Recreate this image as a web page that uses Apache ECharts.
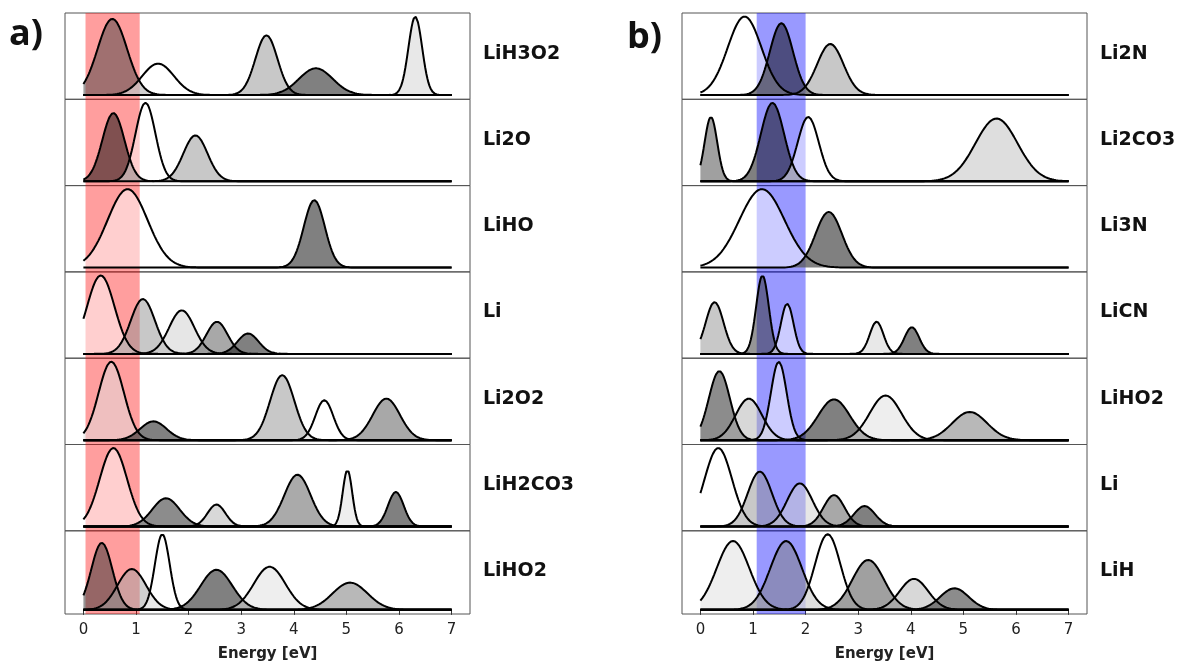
<!DOCTYPE html>
<html>
<head>
<meta charset="utf-8">
<script src="https://cdn.jsdelivr.net/npm/echarts@6/dist/echarts.min.js"></script>
<style>
  html, body { margin: 0; padding: 0; background: #fff; }
  #chart { width: 1184px; height: 663px; }
</style>
</head>
<body>
<div id="chart"></div>
<script>
// tick labels of the energy axis
const xTicks = [0, 1, 2, 3, 4, 5, 6, 7];

// panel a / b row labels (top to bottom)
const namesA = ['LiH3O2', 'Li2O', 'LiHO', 'Li', 'Li2O2', 'LiH2CO3', 'LiHO2'];
const namesB = ['Li2N', 'Li2CO3', 'Li3N', 'LiCN', 'LiHO2', 'Li', 'LiH'];

// highlighted energy windows [eV]
const bandA = [0.04, 1.07];
const bandB = [1.07, 2.0];

// peaks: [centre eV, relative height, width eV]
const a1Peaks = [[0.55, 0.97, 0.28], [1.42, 0.40, 0.30], [3.48, 0.76, 0.21], [4.42, 0.34, 0.32], [6.31, 1.0, 0.13]];
const a2Peaks = [[0.57, 0.87, 0.21], [1.18, 1.0, 0.19], [2.13, 0.585, 0.23]];
const a3Peaks = [[0.84, 1.0, 0.38], [4.39, 0.86, 0.20]];
const a4Peaks = [[0.33, 1.0, 0.26], [1.13, 0.70, 0.23], [1.87, 0.555, 0.24], [2.54, 0.41, 0.20], [3.13, 0.26, 0.20]];
const a5Peaks = [[0.53, 1.0, 0.24], [1.33, 0.24, 0.25], [3.78, 0.83, 0.23], [4.58, 0.51, 0.17], [5.76, 0.53, 0.26]];
const a6Peaks = [[0.57, 1.0, 0.26], [1.57, 0.36, 0.26], [2.53, 0.28, 0.17], [4.07, 0.66, 0.25], [5.02, 0.72, 0.09], [5.94, 0.44, 0.15]];
const a7Peaks = [[0.35, 0.886, 0.20], [0.92, 0.54, 0.27], [1.50, 1.0, 0.14], [2.53, 0.53, 0.30], [3.54, 0.57, 0.30], [5.07, 0.36, 0.33]];

const b1Peaks = [[0.84, 1.0, 0.32], [1.54, 0.915, 0.22], [2.47, 0.65, 0.25]];
const b2Peaks = [[0.20, 0.82, 0.12], [1.37, 1.0, 0.22], [2.05, 0.82, 0.20], [5.63, 0.80, 0.40]];
const b3Peaks = [[1.17, 1.0, 0.43], [2.44, 0.71, 0.25]];
const b4Peaks = [[0.27, 0.66, 0.17], [1.18, 1.0, 0.12], [1.65, 0.64, 0.12], [3.35, 0.41, 0.13], [4.02, 0.34, 0.14]];
const b5Peaks = [[0.36, 0.88, 0.20], [0.92, 0.53, 0.25], [1.49, 1.0, 0.15], [2.54, 0.52, 0.30], [3.52, 0.57, 0.30], [5.12, 0.36, 0.33]];
const b6Peaks = [[0.34, 1.0, 0.26], [1.13, 0.70, 0.23], [1.89, 0.55, 0.24], [2.54, 0.40, 0.20], [3.12, 0.26, 0.20]];
const b7Peaks = [[0.62, 0.91, 0.31], [1.63, 0.91, 0.30], [2.42, 1.0, 0.24], [3.19, 0.66, 0.30], [4.06, 0.41, 0.27], [4.83, 0.285, 0.27]];

// grey level of each fill as seen over white
const a1Shades = [160, 255, 200, 128, 232];
const a2Shades = [128, 255, 200];
const a3Shades = [255, 128];
const a4Shades = [255, 200, 230, 168, 128];
const a5Shades = [239, 128, 200, 255, 168];
const a6Shades = [255, 140, 216, 170, 238, 128];
const a7Shades = [150, 208, 255, 128, 238, 184];

const b1Shades = [255, 128, 200];
const b2Shades = [160, 128, 255, 222];
const b3Shades = [255, 128];
const b4Shades = [200, 150, 255, 232, 128];
const b5Shades = [140, 216, 255, 128, 238, 184];
const b6Shades = [255, 200, 230, 168, 128];
const b7Shades = [238, 190, 255, 160, 216, 140];

const rowsA = [[a1Peaks, a1Shades], [a2Peaks, a2Shades], [a3Peaks, a3Shades], [a4Peaks, a4Shades], [a5Peaks, a5Shades], [a6Peaks, a6Shades], [a7Peaks, a7Shades]];
const rowsB = [[b1Peaks, b1Shades], [b2Peaks, b2Shades], [b3Peaks, b3Shades], [b4Peaks, b4Shades], [b5Peaks, b5Shades], [b6Peaks, b6Shades], [b7Peaks, b7Shades]];

// layout
const TOP = 13, ROW_H = 86.3, GRID_W = 405;
const FONT = 'DejaVu Sans';

// each peak is drawn as a gaussian from 0 to 7 eV
function peakCurve(c, h, s) {
  const pts = [];
  for (let i = 0; i <= 350; i++) {
    const x = i * 0.02;
    pts.push([x, h * Math.exp(-((x - c) * (x - c)) / (2 * s * s))]);
  }
  return pts;
}

function fillColor(obs) {
  // fills are grey at 50% alpha
  const g = Math.max(0, Math.round(2 * obs - 255));
  return 'rgba(' + g + ',' + g + ',' + g + ',0.5)';
}

const chart = echarts.init(document.getElementById('chart'));

const grid = [], xAxis = [], yAxis = [], series = [], graphic = [];

function addPanel(rows, names, left, band, bandColor, letter, letterPos) {
  rows.forEach(function (row, r) {
    const k = grid.length;
    const top = TOP + r * ROW_H;
    const last = r === rows.length - 1;
    grid.push({ left: left, top: top, width: GRID_W, height: ROW_H, show: true, borderColor: '#555', borderWidth: 1 });
    xAxis.push({
      gridIndex: k, type: 'value', min: -0.35, max: 7.35,
      axisLine: { show: false },
      splitLine: { show: false },
      axisTick: { show: last, length: 5, lineStyle: { color: '#333' }, customValues: xTicks },
      axisLabel: { show: last, fontFamily: FONT, fontSize: 15, color: '#222', margin: 9, customValues: xTicks },
      name: last ? 'Energy [eV]' : '',
      nameLocation: 'middle', nameGap: 33,
      nameTextStyle: { fontFamily: FONT, fontSize: 15, fontWeight: 'bold', color: '#222' }
    });
    yAxis.push({ gridIndex: k, type: 'value', min: -0.055, max: 1.045, show: false, splitLine: { show: false } });

    // shaded window behind the curves
    series.push({
      type: 'line', xAxisIndex: k, yAxisIndex: k, data: [], z: 1, silent: true,
      markArea: { silent: true, itemStyle: { color: bandColor }, data: [[{ xAxis: band[0] }, { xAxis: band[1] }]] }
    });

    const peaks = row[0], shades = row[1];
    peaks.forEach(function (p, i) {
      series.push({
        type: 'line', xAxisIndex: k, yAxisIndex: k, z: 2,
        data: peakCurve(p[0], p[1], p[2]),
        showSymbol: false, symbol: 'none',
        lineStyle: { color: '#000', width: 2 },
        areaStyle: { color: fillColor(shades[i]), opacity: 1 }
      });
    });

    graphic.push({
      type: 'text', left: left + GRID_W + 13, top: top + ROW_H / 2 - 12,
      style: { text: names[r], font: 'bold 19px "' + FONT + '"', fill: '#111' }
    });
  });
  graphic.push({
    type: 'text', left: letterPos[0], top: letterPos[1],
    style: { text: letter, font: 'bold 36px "Open Sans"', fill: '#111' }
  });
}

addPanel(rowsA, namesA, 65, bandA, 'rgba(255,0,0,0.38)', 'a)', [9, 17]);
addPanel(rowsB, namesB, 682, bandB, 'rgba(0,0,255,0.4)', 'b)', [627, 20]);

chart.setOption({
  animation: false,
  backgroundColor: '#fff',
  grid: grid,
  xAxis: xAxis,
  yAxis: yAxis,
  series: series,
  graphic: graphic
});
</script>
</body>
</html>
